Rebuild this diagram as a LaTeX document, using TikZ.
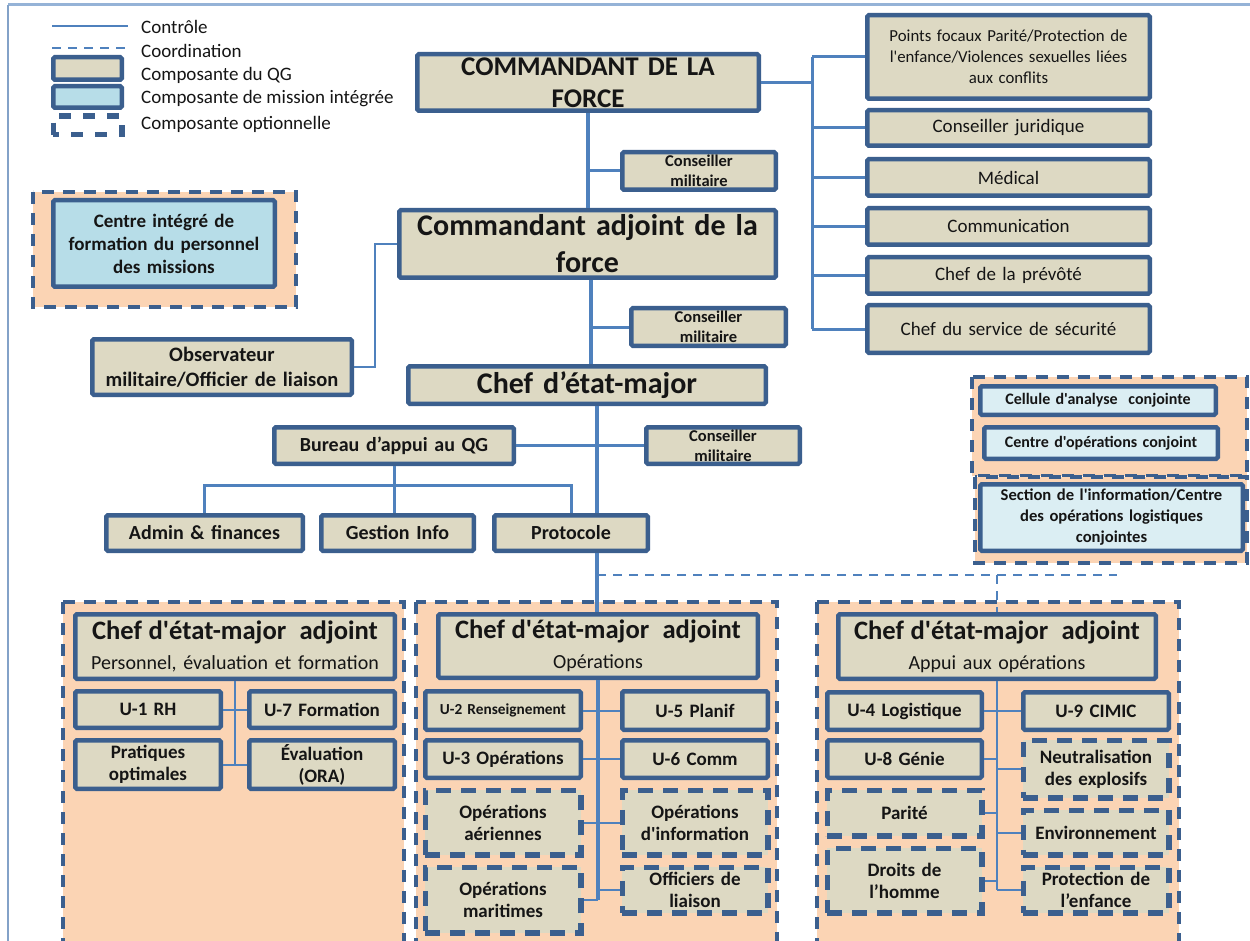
\documentclass[tikz,border=0pt]{standalone}
\usepackage{fontspec}
\setmainfont{Carlito}[Ligatures=TeXOff]
\definecolor{beige}{HTML}{DDD9C3}
\definecolor{navy}{HTML}{3B5F8E}
\definecolor{ctrlblue}{HTML}{4F81BD}
\definecolor{peach}{HTML}{FBD4B4}
\definecolor{ltblue}{HTML}{B7DDE8}
\definecolor{paleblue}{HTML}{DBEEF3}
\definecolor{framec}{HTML}{95B3D7}
\definecolor{ink}{HTML}{151515}
\newcommand\fs[2]{\fontsize{#1}{#2}\selectfont}
% box from its outer corners (x1,y1)-(x2,y2), in pixels
\newcommand\bx[7]{%
  \pgfmathsetmacro\bxw{#5-#3-4.5}%
  \pgfmathsetmacro\bxh{#6-#4-4.5}%
  \pgfmathsetmacro\bxt{#5-#3-12}%
  \pgfmathsetmacro\bxx{(#3+#5)/2}%
  \pgfmathsetmacro\bxy{(#4+#6)/2}%
  \node[#1, minimum width=\bxw pt, minimum height=\bxh pt, text width=\bxt pt] (#2) at (\bxx,\bxy) {#7};%
}
\tikzset{
  qg/.style={draw=navy, line width=4.5pt, fill=beige, rounded corners=1.5pt,
    inner sep=1pt, align=center, text=ink},
  mis/.style={qg, fill=ltblue},
  jmis/.style={qg, fill=paleblue},
  opt/.style={qg, rounded corners=0pt, line width=5.5pt, dash pattern=on 15pt off 10pt},
  panel/.style={draw=navy, line width=4pt, fill=peach, dash pattern=on 12pt off 9pt},
  ctrl/.style={draw=ctrlblue, line width=3pt},
  spine/.style={ctrl, line width=4.5pt},
  thinc/.style={ctrl, line width=2pt},
  coord/.style={draw=ctrlblue, line width=2.5pt, dash pattern=on 9pt off 7pt},
  legt/.style={anchor=west, inner sep=0pt, text=ink, font=\fs{19}{22}},
  bigb/.style={font=\fs{30}{37}\bfseries},
  unitb/.style={font=\fs{19}{22}\bfseries},
  hqb/.style={font=\fs{20}{22}\bfseries},
  advb/.style={font=\fs{16.5}{20}\bfseries},
  sideb/.style={font=\fs{19}{22}},
  jb/.style={font=\fs{16.6}{21}\bfseries},
  hdr/.style={font=\fs{20}{30}},
}
\newcommand\hdrtitle{{\fs{26.6}{30}\bfseries Chef d'état-major\ \ adjoint}}
\begin{document}
\begin{tikzpicture}[x=1pt,y=-1pt]
\useasboundingbox[fill=white] (0,0) rectangle (1250,941);

% frame
\draw[framec, line width=3pt] (8,5) -- (1250,5);
\draw[framec!80!navy, line width=1.8pt] (8,5) -- (8,941);

% legend
\draw[ctrlblue, line width=2.5pt] (52,26) -- (128,26);
\draw[coord] (52,48) -- (128,48);
\bx{qg}{leg1}{51}{55}{124}{82}{}
\bx{mis}{leg2}{51}{84}{124}{110}{}
\bx{opt, fill=white, dash pattern=on 12pt off 12pt, dash phase=6pt}{leg3}{51}{114}{124}{137}{}
\node[legt] (lt1) at (141,27) {Contrôle};
\node[legt] (lt2) at (141,51) {Coordination};
\node[legt] (lt3) at (141,75) {Composante du QG};
\node[legt] (lt4) at (141,99) {Composante de mission intégrée};
\node[legt] (lt5) at (141,124) {Composante optionnelle};

% optional panels
\draw[panel] (33,192) rectangle (296,307);
\draw[panel] (972,377) rectangle (1247,476);
\draw[panel] (975,477) rectangle (1247,563);
\draw[panel] (63,602) rectangle (404,960);
\draw[panel] (416,602) rectangle (777,960);
\draw[panel] (817,602) rectangle (1179,960);

% command chain
\bx{qg, font=\fs{27}{32}\bfseries, inner ysep=-6pt}{cdf}{415}{52}{761}{113}{COMMANDANT DE LA\\FORCE}
\bx{qg, advb}{cm1}{620}{150}{778}{192}{Conseiller\\militaire}
\bx{qg, bigb, inner ysep=0pt}{caf}{397}{208}{778}{280}{Commandant adjoint de la\\force}
\bx{qg, advb}{cm2}{629}{306}{788}{348}{Conseiller\\militaire}
\bx{qg, bigb}{cem}{406}{364}{768}{406}{Chef d’état-major}
\bx{qg, hqb}{bur}{272}{425}{516}{466}{Bureau d’appui au QG}
\bx{qg, advb}{cm3}{644}{425}{802}{466}{Conseiller\\militaire}
\bx{qg, hqb}{adm}{104}{513}{305}{553}{Admin \& finances}
\bx{qg, hqb}{gest}{319}{513}{476}{553}{Gestion Info}
\bx{qg, hqb}{proto}{492}{513}{650}{553}{Protocole}

% left side
\bx{mis, font=\fs{19}{23}\bfseries}{cif}{51}{198}{277}{289}{Centre intégré de\\formation du personnel\\des missions}
\bx{qg, font=\fs{20.5}{25}\bfseries}{obs}{90}{337}{354}{397}{Observateur\\militaire/Officier de liaison}

% special staff column
\bx{qg, font=\fs{16.8}{21}}{pf}{865}{13}{1152}{101}{Points focaux Parité/Protection de\\l'enfance/Violences sexuelles liées\\aux conflits}
\bx{qg, sideb}{jur}{865}{108}{1152}{148}{Conseiller juridique}
\bx{qg, sideb}{med}{865}{157}{1152}{198}{Médical}
\bx{qg, sideb}{com}{865}{206}{1152}{247}{Communication}
\bx{qg, sideb}{prev}{865}{255}{1152}{296}{Chef de la prévôté}
\bx{qg, sideb}{secu}{865}{303}{1152}{355}{Chef du service de sécurité}

% joint mission cells
\bx{jmis, font=\fs{16}{21}\bfseries}{cac}{978}{384}{1218}{417}{Cellule d'analyse\ \ conjointe}
\bx{jmis, font=\fs{16}{21}\bfseries}{coc}{982}{425}{1220}{461}{Centre d'opérations conjoint}
\bx{jmis, jb}{sil}{978}{482}{1245}{553}{Section de l'information/Centre\\des opérations logistiques\\conjointes}

% deputy chiefs of staff
\bx{qg, hdr}{pef}{73}{612}{397}{681}{\hdrtitle\\Personnel, évaluation et formation}
\bx{qg, hdr}{ops}{436}{612}{760}{680}{\hdrtitle\\Opérations}
\bx{qg, hdr}{app}{836}{612}{1158}{681}{\hdrtitle\\Appui\ aux opérations}

% personnel branch
\bx{qg, unitb}{u1}{73}{689}{223}{730}{U-1 RH}
\bx{qg, unitb}{u7}{247}{689}{397}{730}{U-7 Formation}
\bx{qg, unitb}{prat}{73}{738}{223}{791}{Pratiques\\optimales}
\bx{qg, unitb}{eval}{247}{738}{397}{791}{Évaluation\\(ORA)}

% operations branch
\bx{qg, font=\fs{15.3}{18}\bfseries}{u2}{423}{689}{583}{732}{U-2 Renseignement}
\bx{qg, unitb}{u5}{620}{689}{770}{732}{U-5 Planif}
\bx{qg, unitb}{u3}{423}{738}{583}{780}{U-3 Opérations}
\bx{qg, unitb}{u6}{620}{738}{770}{780}{U-6 Comm}
\bx{opt, unitb}{aer}{423}{788}{583}{857}{Opérations\\aériennes}
\bx{opt, unitb}{inf}{620}{788}{770}{857}{Opérations\\d'information}
\bx{opt, unitb}{mar}{423}{865}{583}{935}{Opérations\\maritimes}
\bx{opt, unitb}{off}{620}{865}{770}{915}{Officiers de\\liaison}

% support branch
\bx{qg, unitb}{u4}{825}{690}{984}{732}{U-4 Logistique}
\bx{qg, unitb}{u9}{1021}{690}{1171}{732}{U-9 CIMIC}
\bx{qg, unitb}{u8}{825}{738}{984}{780}{U-8 Génie}
\bx{opt, unitb}{par}{825}{788}{984}{838}{Parité}
\bx{opt, unitb}{dro}{825}{846}{984}{915}{Droits de\\l’homme}
\bx{opt, unitb}{neu}{1021}{738}{1171}{800}{Neutralisation\\des explosifs}
\bx{opt, unitb}{env}{1021}{808}{1171}{857}{Environnement}
\bx{opt, unitb}{pro}{1021}{865}{1171}{915}{Protection de\\l’enfance}

% ---- connectors ----
\coordinate (rsp) at (812,0);
\draw[ctrl] (cdf.east) -- (cdf.east -| rsp);
\draw[ctrl] (pf.west -| rsp) -- (secu.west -| rsp);
\foreach \n in {pf,jur,med,com,prev,secu}
  \draw[ctrl] (\n.west -| rsp) -- (\n.west);

\draw[spine] (cdf.south) -- (cdf.south |- caf.north);
\draw[ctrl] (cm1.west) -- (cm1.west -| cdf.south);
\coordinate (sp2) at (591,0);
\draw[spine] (caf.south -| sp2) -- (cem.north -| sp2);
\draw[ctrl] (cm2.west) -- (cm2.west -| sp2);
\coordinate (sp3) at (597,0);
\draw[spine] (cem.south -| sp3) -- (proto.north -| sp3);
\draw[ctrl] (bur.east) -- (cm3.west);
\coordinate (bj) at (400,485);
\draw[ctrl] (bur.south) -- (bur.south |- gest.north);
\draw[ctrl] (adm.north) -- (adm.north |- bj) -- (bj -| proto.north) -- (proto.north);
\draw[spine] (proto.south -| sp3) -- (ops.north -| sp3);

\coordinate (cj) at (597,575);
\coordinate (cend) at (1117,575);
\draw[coord] (cj) -- (cend);
\draw[coord] (cj -| app.north) -- (app.north);

\coordinate (ox) at (375,0);
\draw[ctrl, line width=2.5pt] (obs.east) -- (obs.east -| ox) -- (caf.west -| ox) -- (caf.west);

\draw[thinc] (pef.south) -- (pef.south |- eval.west);
\draw[thinc] (u1.east) -- (u7.west);
\draw[thinc] (prat.east) -- (eval.west);

\draw[ctrl, line width=4pt] (ops.south) -- (ops.south |- mar.east);
\draw[thinc] (u2.east) -- (u5.west);
\draw[thinc] (u3.east) -- (u6.west);
\draw[thinc] (aer.east) -- (inf.west);
\draw[thinc] (mar.east) -- (mar.east -| ops.south);
\draw[thinc] (off.west) -- (off.west -| ops.south);

\draw[thinc, line width=2.5pt] (app.south) -- (app.south |- pro.west);
\draw[thinc] (u4.east) -- (u9.west);
\foreach \n in {u8,par,dro}
  \draw[thinc] (\n.east) -- (\n.east -| app.south);
\foreach \n in {neu,env,pro}
  \draw[thinc] (\n.west) -- (\n.west -| app.south);
\end{tikzpicture}
\end{document}
